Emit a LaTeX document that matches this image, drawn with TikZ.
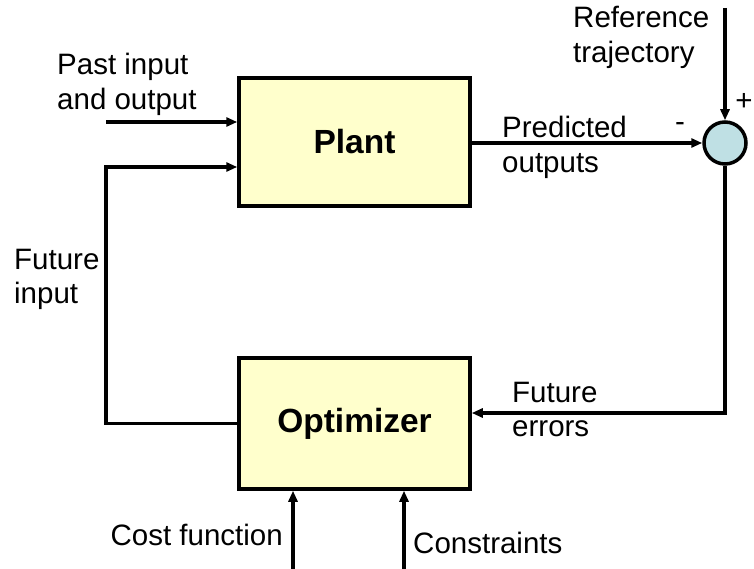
\documentclass[tikz,border=0pt]{standalone}
\usepackage{fontspec}
\setmainfont{Liberation Sans}
\usetikzlibrary{arrows.meta,positioning,calc}
\definecolor{BoxFill}{HTML}{FFFFCC}
\definecolor{SumFill}{HTML}{BFE0E4}

\begin{document}
\begin{tikzpicture}[x=1pt,y=-1pt,line join=miter,
    block/.style={draw,line width=3.5pt,fill=BoxFill,minimum width=231pt,
      font=\fontsize{33.5}{36}\selectfont\bfseries},
    lbl/.style={inner sep=0pt,align=left,font=\fontsize{29.5}{34.5}\selectfont},
    sig/.style={line width=3.5pt,-{Triangle[length=11pt,width=9pt]}}]
  \useasboundingbox (0,0) rectangle (754,569);

  % blocks and summing junction
  \node[block,minimum height=128pt] (plant) at (354.5,142) {Plant};
  \node[block,minimum height=131pt] (opt) at (354.5,423.5) {Optimizer};
  \node[circle,draw,line width=3.5pt,fill=SumFill,minimum size=42pt] (sum) at (725,143) {};

  % free ends
  \coordinate (ref) at (725,8);
  \coordinate (past) at (106,122);
  \coordinate (loop) at (106,167);
  \coordinate (err) at (725,413);
  \coordinate (cost) at (293,569);
  \coordinate (cons) at (404,569);

  % signals
  \draw[sig] (ref) -- (sum.north);
  \draw[sig] (plant.east |- sum) -- (sum.west);
  \draw[sig] (past) -- (plant.west |- past);
  \draw[sig] (opt.west) -| (loop) -- (plant.west |- loop);
  \draw[sig] (sum.south) |- (opt.east |- err);
  \draw[sig] (cost) -- (cost |- opt.south);
  \draw[sig] (cons) -- (cons |- opt.south);

  % labels
  \node[lbl,anchor=north west] (refl) at (573,6) {Reference\\trajectory};
  \node[lbl] (plus) at (744,102) {+};
  \node[lbl] (minus) at (680,127) {-};
  \node[lbl,anchor=north west] (predl) at (502,116) {Predicted\\outputs};
  \node[lbl,anchor=north west] (pastl) at (57,53) {Past input\\and output};
  \node[lbl,anchor=north west] (futl) at (14,249) {Future\\input};
  \node[lbl,anchor=north west] (errl) at (512,382) {Future\\errors};
  \node[lbl,anchor=north east] (costl) at (283,524) {Cost function};
  \node[lbl,anchor=north west] (consl) at (413,532) {Constraints};
\end{tikzpicture}
\end{document}
